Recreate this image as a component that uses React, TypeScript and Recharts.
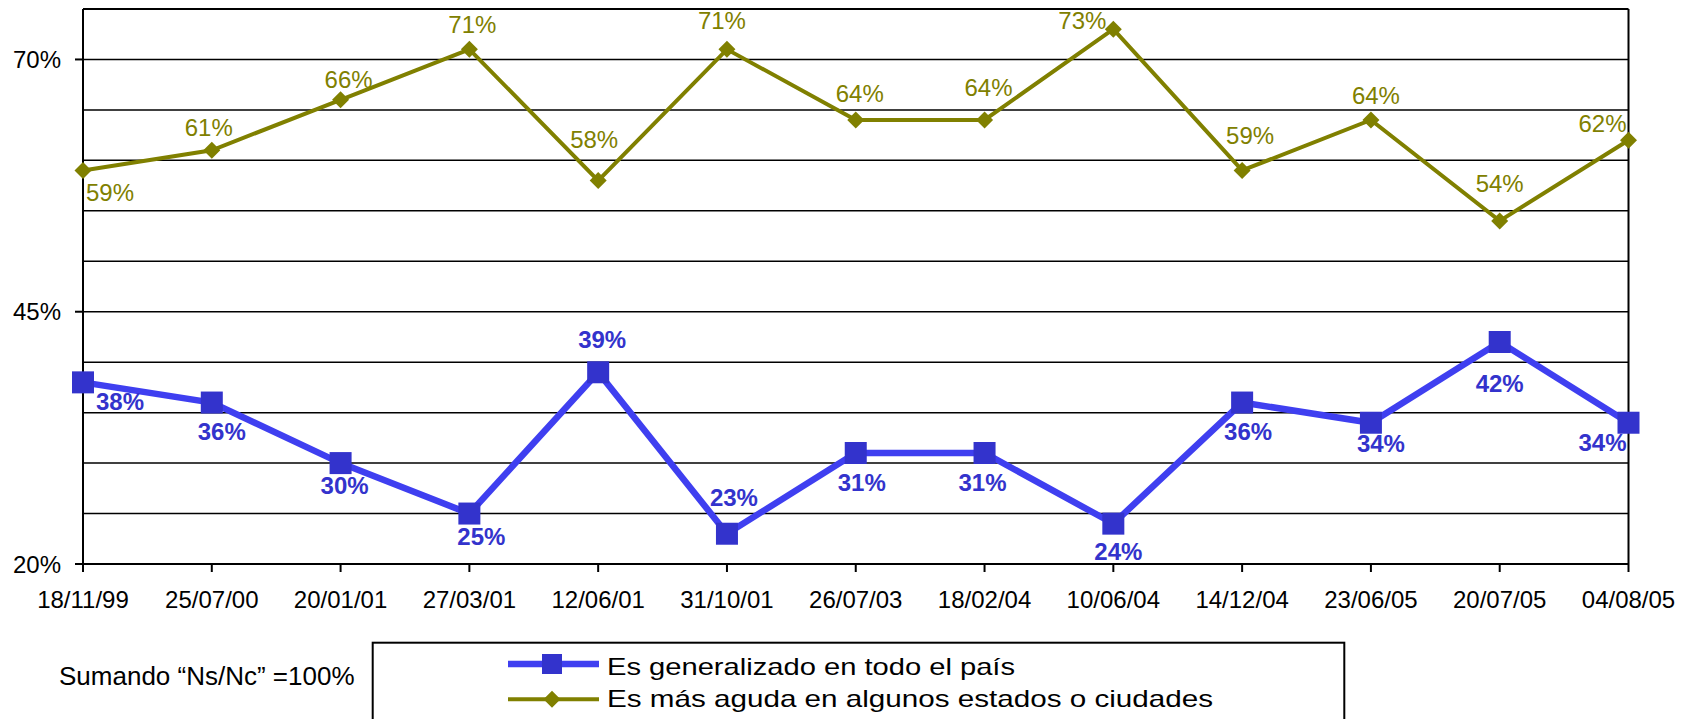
import React from 'react';
import { LineChart, Line, XAxis, YAxis, ReferenceLine, Legend, LabelList } from 'recharts';

const dates = ['18/11/99', '25/07/00', '20/01/01', '27/03/01', '12/06/01', '31/10/01', '26/07/03', '18/02/04', '10/06/04', '14/12/04', '23/06/05', '20/07/05', '04/08/05'];
const generalizado = [38, 36, 30, 25, 39, 23, 31, 31, 24, 36, 34, 42, 34];
const aguda = [59, 61, 66, 71, 58, 71, 64, 64, 73, 59, 64, 54, 62];
const yTicks = [20, 45, 70];
const gridValues = [25, 30, 35, 40, 45, 50, 55, 60, 65, 70, 75];
const seriesNames = ['Es generalizado en todo el país', 'Es más aguda en algunos estados o ciudades'];
const noteText = 'Sumando \u201CNs/Nc\u201D =100%';

// label placement offsets (styling), relative to each point
const genLabelOffsets = [
  [37, 28], [10, 37], [4, 31], [12, 31], [4, -24], [7, -28], [6, 38], [-2, 38], [5, 36], [6, 37], [10, 29], [0, 50], [-26, 28],
];
const aguLabelOffsets = [
  [27, 31], [-3, -14], [8, -12], [3, -16], [-4, -33], [-5, -20], [4, -18], [4, -24], [-31, 0], [8, -26], [5, -16], [0, -29], [-26, -8],
];

const data = dates.map((d, i) => ({ date: d, gen: generalizado[i], agu: aguda[i] }));

const FONT = '"Liberation Sans", Arial, Helvetica, sans-serif';
const BLUE_LINE = '#3F3FF0';
const BLUE_MARK = '#3333CC';
const OLIVE = '#808000';

const SquareDot = (props: any) => {
  const { cx, cy, index } = props;
  if (cx == null || cy == null) return <g key={`s${index}`} />;
  return <rect key={`s${index}`} x={cx - 11} y={cy - 11} width={22} height={22} fill={BLUE_MARK} />;
};

const DiamondDot = (props: any) => {
  const { cx, cy, index } = props;
  if (cx == null || cy == null) return <g key={`d${index}`} />;
  const h = 8.5;
  return (
    <polygon
      key={`d${index}`}
      points={`${cx},${cy - h} ${cx + h},${cy} ${cx},${cy + h} ${cx - h},${cy}`}
      fill={OLIVE}
    />
  );
};

const makeLabel = (offsets: number[][], color: string, bold: boolean) => (props: any) => {
  const { x, y, value, index } = props;
  const off = offsets[index] || [0, -15];
  return (
    <text
      x={x + off[0]}
      y={y + off[1]}
      textAnchor="middle"
      fill={color}
      fontSize={24}
      fontWeight={bold ? 'bold' : 'normal'}
      fontFamily={FONT}
    >
      {`${value}%`}
    </text>
  );
};

const LegendContent = (props: any) => {
  const payload = props.payload || [];
  const rows = [
    payload.find((p: any) => p.dataKey === 'gen'),
    payload.find((p: any) => p.dataKey === 'agu'),
  ];
  const textLens = [408, 606];
  return (
    <svg width={1690} height={89} style={{ display: 'block' }}>
      <text x={59} y={55} fontSize={26} fontFamily={FONT} fill="#000">
        {noteText}
      </text>
      <rect x={372.7} y={12.7} width={971.6} height={120} fill="#fff" stroke="#000" strokeWidth={2} />
      {rows.map((p: any, i: number) => {
        if (!p) return null;
        const cy = i === 0 ? 34 : 69.3;
        const isGen = p.dataKey === 'gen';
        return (
          <g key={p.dataKey}>
            <line x1={508} x2={599} y1={cy} y2={cy} stroke={isGen ? BLUE_LINE : OLIVE} strokeWidth={isGen ? 6.5 : 4} />
            {isGen ? (
              <rect x={542} y={cy - 10} width={20} height={20} fill={BLUE_MARK} />
            ) : (
              <polygon points={`552,${cy - 8.5} 560.5,${cy} 552,${cy + 8.5} 543.5,${cy}`} fill={OLIVE} />
            )}
            <text
              x={607}
              y={i === 0 ? 45 : 77}
              fontSize={24}
              fontFamily={FONT}
              fill="#000"
              textLength={textLens[i]}
              lengthAdjust="spacingAndGlyphs"
            >
              {p.value}
            </text>
          </g>
        );
      })}
    </svg>
  );
};

export default function App() {
  return (
    <div style={{ position: 'absolute', left: 0, top: 0, width: 1690, height: 719, background: '#fff' }}>
      <LineChart
        width={1690}
        height={719}
        data={data}
        margin={{ top: 9, right: 61.5, bottom: 115, left: 0 }}
        style={{ fontFamily: FONT }}
      >
        <XAxis
          dataKey="date"
          interval={0}
          height={40}
          tickSize={8}
          tickMargin={19}
          axisLine={{ stroke: '#000', strokeWidth: 2 }}
          tickLine={{ stroke: '#000', strokeWidth: 2 }}
          tick={{ fill: '#000', fontSize: 24, fontFamily: FONT }}
          padding={{ left: 0, right: 0 }}
        />
        <YAxis
          type="number"
          domain={[20, 75]}
          ticks={yTicks}
          width={83}
          tickSize={8}
          tickMargin={14}
          axisLine={{ stroke: '#000', strokeWidth: 2 }}
          tickLine={{ stroke: '#000', strokeWidth: 2 }}
          tick={{ fill: '#000', fontSize: 24, fontFamily: FONT }}
          tickFormatter={(v: number) => `${v}%`}
          allowDataOverflow
        />
        {gridValues.map((v) => (
          <ReferenceLine key={`g${v}`} y={v} stroke="#000" strokeWidth={v === 75 ? 2 : 1.5} ifOverflow="extendDomain" />
        ))}
        <ReferenceLine x={dates[dates.length - 1]} stroke="#000" strokeWidth={2} />
        <Legend
          layout="horizontal"
          verticalAlign="middle"
          align="center"
          content={<LegendContent />}
          wrapperStyle={{ left: 0, top: 630, width: 1690, height: 89 }}
        />
        <Line
          dataKey="gen"
          name={seriesNames[0]}
          stroke={BLUE_LINE}
          strokeWidth={6.5}
          dot={SquareDot}
          activeDot={false}
          isAnimationActive={false}
          legendType="square"
          color={BLUE_MARK}
        >
          <LabelList dataKey="gen" content={makeLabel(genLabelOffsets, BLUE_MARK, true)} />
        </Line>
        <Line
          dataKey="agu"
          name={seriesNames[1]}
          stroke={OLIVE}
          strokeWidth={4}
          dot={DiamondDot}
          activeDot={false}
          isAnimationActive={false}
          legendType="diamond"
        >
          <LabelList dataKey="agu" content={makeLabel(aguLabelOffsets, OLIVE, false)} />
        </Line>
      </LineChart>
    </div>
  );
}
